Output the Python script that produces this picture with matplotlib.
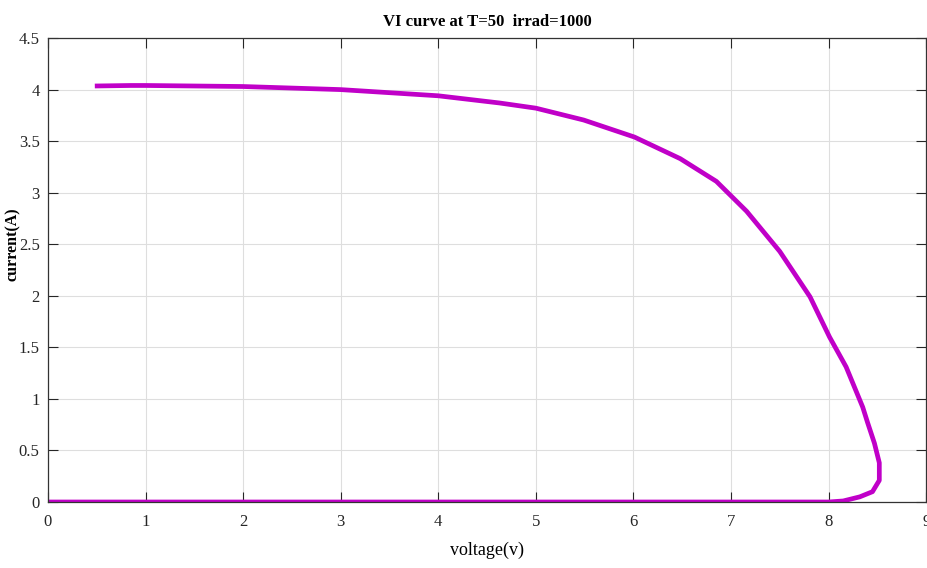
import matplotlib
matplotlib.use("Agg")
import matplotlib.pyplot as plt

# VI trace (voltage in V, current in A)
voltage = [0.0, 2.0, 4.0, 6.0, 8.0, 8.15, 8.32, 8.45, 8.52, 8.52, 8.47,
           8.40, 8.35, 8.18, 8.01, 7.81, 7.5, 7.16, 6.85, 6.48, 6.01, 5.49,
           5.0, 4.63, 4.0, 3.0, 2.0, 1.0, 0.85, 0.48]
current = [0.0, 0.0, 0.0, 0.0, 0.0, 0.01, 0.05, 0.10, 0.21, 0.38, 0.57,
           0.77, 0.92, 1.31, 1.60, 1.99, 2.43, 2.82, 3.11, 3.33, 3.54, 3.705,
           3.82, 3.87, 3.94, 4.00, 4.03, 4.04, 4.04, 4.035]

xticks = list(range(0, 10))
yticks = [0, 0.5, 1, 1.5, 2, 2.5, 3, 3.5, 4, 4.5]
ytick_labels = ["0", "0.5", "1", "1.5", "2", "2.5", "3", "3.5", "4", "4.5"]

plt.rcParams["font.family"] = ["Liberation Serif", "DejaVu Serif"]

fig = plt.figure(figsize=(9.28, 5.68), dpi=100)
ax = fig.add_axes([0.0517, 0.1162, 0.9463, 0.8168])

ax.plot(voltage, current, color="#c000c8", lw=3.4, solid_capstyle="butt",
        solid_joinstyle="round")

ax.set_xlim(0, 9)
ax.set_ylim(0, 4.5)
ax.set_xticks(xticks)
ax.set_yticks(yticks)
ax.set_xticklabels([str(t) for t in xticks])
ax.set_yticklabels(ytick_labels)
ax.grid(True, color="#dedede", lw=0.8)
ax.set_axisbelow(True)
ax.tick_params(direction="in", length=7, width=0.8, top=True, right=True,
               labelsize=12, colors="#262626")
ax.tick_params(axis="x", pad=9)
ax.tick_params(axis="y", pad=6)
for s in ax.spines.values():
    s.set_color("#333333")
    s.set_linewidth(0.9)

ax.set_title("VI curve at T=50  irrad=1000", fontsize=12, fontweight="bold", pad=9)
ax.set_xlabel("voltage(v)", fontsize=13, labelpad=8)
ax.set_ylabel("current(A)", fontsize=11.5, fontweight="bold")
ax.yaxis.set_label_coords(-0.031, 0.555)

fig.savefig("out.png", dpi=100)
